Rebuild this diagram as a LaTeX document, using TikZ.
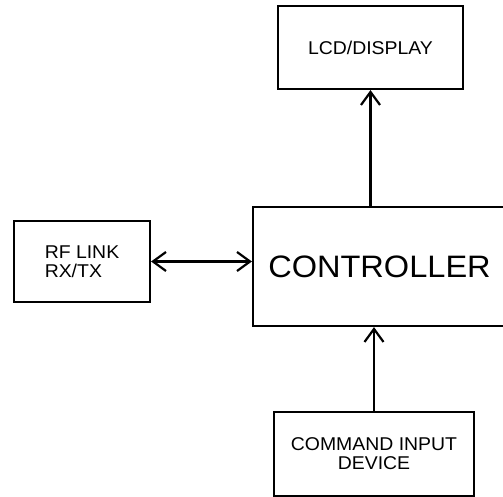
\documentclass[tikz,border=0pt]{standalone}
\usepackage{fontspec}
\setmainfont{Liberation Sans}[FakeStretch=1.05]
\usetikzlibrary{arrows.meta,calc}

\begin{document}
\begin{tikzpicture}[x=1pt,y=-1pt,>={Straight Barb[length=13pt,width=19pt]},
  blk/.style={draw,line width=2.2pt,inner sep=0pt,align=center,
    font=\fontsize{18.5}{19}\selectfont},
  link/.style={line width=2.2pt}]

\useasboundingbox (0,0) rectangle (503,497);

%---------------- Blocks ----------------
\node[blk,minimum width=185,minimum height=83] (lcd) at (370.5,47.5) {LCD/DISPLAY};
\node[blk,minimum width=253,minimum height=119,
  font=\fontsize{31}{34}\selectfont] (ctrl) at (379.5,266.5) {CONTROLLER};
\node[blk,minimum width=136,minimum height=81,align=left] (rf) at (82,261.5) {RF LINK\\RX/TX};
\node[blk,minimum width=200,minimum height=84] (cmd) at (374,454) {COMMAND INPUT\\DEVICE};

%---------------- Connectors ----------------
% controller to display
\draw[link,->] (ctrl.north -| lcd.south) -- (lcd.south);
% radio link both ways
\draw[link,<->] (rf.east) -- (rf.east -| ctrl.west);
% input device to controller
\draw[link,->] (cmd.north) -- (cmd.north |- ctrl.south);

\end{tikzpicture}
\end{document}
